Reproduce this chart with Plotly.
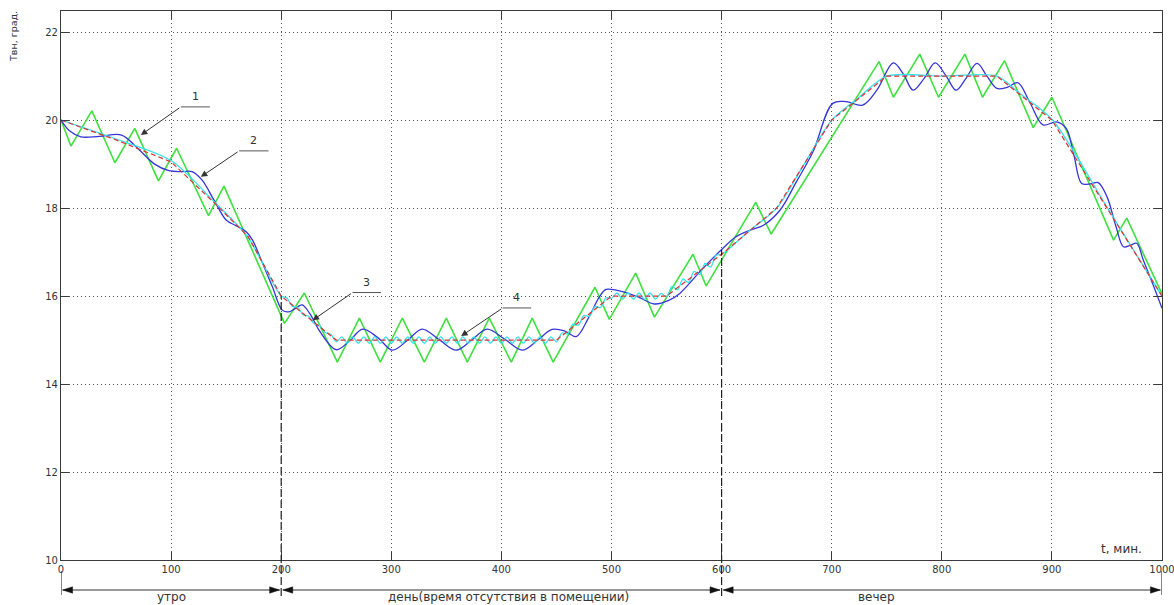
import plotly.graph_objects as go

# ---------------- data ----------------
red_t = [0, 50, 100, 140, 170, 200, 225, 250, 450, 475, 500, 550, 600, 650, 700, 750, 850, 870, 900, 950, 1000]
red_T = [20.0, 19.55, 19.05, 18.1, 17.35, 16.0, 15.5, 15.0, 15.0, 15.5, 16.0, 16.0, 16.95, 18.0, 20.0, 21.0, 21.0, 20.6, 20.0, 18.0, 16.0]

cyan_t = [0, 50, 100, 140, 170, 200,
          205, 210, 215, 220, 225, 230, 235, 240, 245, 250,
          255, 260, 265, 270, 275, 280, 285, 290, 295, 300,
          305, 310, 315, 320, 325, 330, 335, 340, 345, 350,
          355, 360, 365, 370, 375, 380, 385, 390, 395, 400,
          405, 410, 415, 420, 425, 430, 435, 440, 445, 450,
          455, 460, 465, 470, 475, 480, 485, 490, 495, 500,
          505, 510, 515, 520, 525, 530, 535, 540, 545, 550,
          555, 560, 565, 570, 575, 580, 585, 590, 595, 600,
          625, 650, 675, 700, 725, 750, 800, 850, 870, 900, 950, 1000]
cyan_T = [20.0, 19.57, 19.08, 18.12, 17.33, 16.0,
          15.96, 15.77, 15.74, 15.57, 15.54, 15.37, 15.33, 15.17, 15.13, 14.96,
          15.07, 14.93, 15.07, 14.93, 15.07, 14.93, 15.07, 14.93, 15.07, 14.93,
          15.07, 14.93, 15.07, 14.93, 15.07, 14.93, 15.07, 14.93, 15.07, 14.93,
          15.07, 14.93, 15.07, 14.93, 15.07, 14.93, 15.07, 14.93, 15.07, 14.93,
          15.07, 14.93, 15.07, 14.93, 15.07, 14.93, 15.07, 14.93, 15.07, 14.96,
          15.16, 15.14, 15.36, 15.34, 15.56, 15.54, 15.76, 15.74, 15.96, 15.95,
          16.07, 15.93, 16.07, 15.93, 16.07, 15.93, 16.07, 15.93, 16.06, 15.98,
          16.22, 16.14, 16.39, 16.31, 16.56, 16.49, 16.74, 16.66, 16.93, 16.95,
          17.48, 18.0, 19.0, 20.0, 20.52, 21.0, 21.0, 21.0, 20.62, 20.02, 18.02, 16.0]

blue_t = [0, 8, 18, 35, 55, 70, 85, 98, 110, 119, 128, 139, 150, 159, 168, 174, 183, 192, 201, 207,
          213, 219, 226, 235, 250, 262, 274, 288, 301, 315, 328, 343, 359, 373, 387, 403, 419, 433, 446, 458,
          468, 479, 489, 495, 510, 525, 539, 552, 562, 583, 601, 613, 626, 638, 653, 668, 683, 701, 713, 728,
          741, 756, 765, 774, 784, 794, 804, 813, 822, 832, 841, 850, 860, 869, 880, 892, 904, 913, 920, 927,
          935, 942, 950, 958, 965, 971, 977, 983, 992, 1000]
blue_T = [20.0, 19.75, 19.62, 19.63, 19.66, 19.35, 19.0, 18.85, 18.83, 18.83, 18.64, 18.18, 17.73, 17.6, 17.47, 17.27, 16.75, 16.21, 15.68, 15.64,
          15.72, 15.8, 15.6, 15.2, 14.78, 14.98, 15.25, 15.05, 14.77, 15.0, 15.25, 15.02, 14.77, 15.0, 15.25, 15.02, 14.77, 15.0, 15.24, 15.2,
          15.08, 15.5, 15.98, 16.15, 16.1, 15.97, 15.82, 15.9, 16.06, 16.63, 17.08, 17.35, 17.5, 17.61, 17.95, 18.6, 19.28, 20.38, 20.42, 20.34,
          20.68, 21.3, 21.05, 20.68, 20.95, 21.3, 21.0, 20.68, 20.95, 21.29, 21.0, 20.72, 20.75, 20.85, 20.4, 19.89, 19.96, 19.81, 19.2, 18.56,
          18.55, 18.58, 18.26, 17.6, 17.12, 17.15, 17.2, 16.82, 16.25, 15.72]

green_t = [0, 9, 28, 49, 67, 88.5, 105, 134, 148, 203, 221, 251, 271, 290, 310, 330, 350, 369, 389, 409, 428,
           447, 485, 498, 522, 539, 574, 586, 631, 645, 743, 756, 780, 797, 821, 837, 857, 883, 900, 956, 968, 1000]
green_T = [20.0, 19.41, 20.21, 19.03, 19.81, 18.62, 19.36, 17.83, 18.5, 15.38, 16.07, 14.5, 15.5, 14.5, 15.5, 14.5, 15.5, 14.5, 15.5, 14.5, 15.5,
           14.5, 16.2, 15.47, 16.52, 15.52, 16.95, 16.23, 18.13, 17.41, 21.33, 20.52, 21.5, 20.52, 21.5, 20.52, 21.35, 19.83, 20.52, 17.27, 17.77, 16.05]

x_ticks = [0, 100, 200, 300, 400, 500, 600, 700, 800, 900, 1000]
y_ticks = [10, 12, 14, 16, 18, 20, 22]

zone_bounds = [0, 200, 600, 1000]
zone_top_T = [None, 16.0, 17.05, None]
zone_labels = ["утро", "день(время отсутствия в помещении)", "вечер"]
zone_label_t = [100, 406, 741]

callout_text = ["1", "2", "3", "4"]
callout_head_t = [72.5, 127, 228.5, 363.4]
callout_head_T = [19.66, 18.71, 15.45, 15.09]
callout_tail_t = [108.8, 161.8, 264.8, 401.2]
callout_tail_T = [20.30, 19.30, 16.08, 15.73]
callout_end_t = [135.2, 188.5, 290.6, 427.0]

Y_MAX = 22.48
FONT = "DejaVu Sans"
INK = "#333333"

fig = go.Figure()
fig.add_trace(go.Scatter(x=green_t, y=green_T, mode="lines",
                         line=dict(color="#3fe03f", width=1.6), showlegend=False))
fig.add_trace(go.Scatter(x=blue_t, y=blue_T, mode="lines",
                         line=dict(color="#3535d8", width=1.3, shape="spline", smoothing=1.0), showlegend=False))
fig.add_trace(go.Scatter(x=cyan_t, y=cyan_T, mode="lines",
                         line=dict(color="#35e3ee", width=1.3, shape="spline", smoothing=0.8), showlegend=False))
fig.add_trace(go.Scatter(x=red_t, y=red_T, mode="lines",
                         line=dict(color="#e03030", width=1.2, dash="5px,3px"), showlegend=False))

shapes = []
annotations = []

PLOT_H = 549.0
def px_to_paper_y(py):
    return (560.0 - py) / PLOT_H

# zone separators
for b, topT in zip(zone_bounds, zone_top_T):
    if topT is None:
        shapes.append(dict(type="line", xref="x", yref="paper", x0=b, x1=b,
                           y0=px_to_paper_y(571), y1=px_to_paper_y(595),
                           line=dict(color=INK, width=1.2)))
    else:
        shapes.append(dict(type="line", xref="x", yref="paper", x0=b, x1=b,
                           y0=px_to_paper_y(596), y1=(topT - 10) / (Y_MAX - 10),
                           line=dict(color="#222222", width=1.2, dash="8px,3px")))

# zone arrows
arrow_y = px_to_paper_y(590)
head_len = 9.0
head_half = 3.2 / PLOT_H
gap = 1.5
for i in range(len(zone_bounds) - 1):
    a = zone_bounds[i] + gap
    b = zone_bounds[i + 1] - gap
    shapes.append(dict(type="line", xref="x", yref="paper", x0=a, x1=b, y0=arrow_y, y1=arrow_y,
                       line=dict(color=INK, width=1)))
    shapes.append(dict(type="path", xref="x", yref="paper",
                       path=f"M {a} {arrow_y} L {a + head_len} {arrow_y + head_half} L {a + head_len} {arrow_y - head_half} Z",
                       fillcolor="#111111", line=dict(color="#111111", width=0.5)))
    shapes.append(dict(type="path", xref="x", yref="paper",
                       path=f"M {b} {arrow_y} L {b - head_len} {arrow_y + head_half} L {b - head_len} {arrow_y - head_half} Z",
                       fillcolor="#111111", line=dict(color="#111111", width=0.5)))
    annotations.append(dict(x=zone_label_t[i], y=px_to_paper_y(597), xref="x", yref="paper",
                            text=zone_labels[i], showarrow=False, xanchor="center", yanchor="middle",
                            font=dict(family=FONT, size=12, color=INK)))

# numbered callouts
for txt, ht, hT, tt, tT, et in zip(callout_text, callout_head_t, callout_head_T,
                                   callout_tail_t, callout_tail_T, callout_end_t):
    shapes.append(dict(type="line", xref="x", yref="y", x0=tt, x1=et, y0=tT, y1=tT,
                       line=dict(color="#555555", width=1)))
    annotations.append(dict(x=ht, y=hT, xref="x", yref="y", ax=tt, ay=tT, axref="x", ayref="y",
                            text="", showarrow=True, arrowhead=2, arrowsize=1.3, arrowwidth=1,
                            arrowcolor="#333333", standoff=0))
    annotations.append(dict(x=(tt + et) / 2, y=tT, xref="x", yref="y", text=txt, showarrow=False,
                            xanchor="center", yanchor="bottom", yshift=2,
                            font=dict(family=FONT, size=11, color=INK)))

# axis titles
annotations.append(dict(x=-0.0427, y=px_to_paper_y(36), xref="paper", yref="paper",
                        text="Твн, град.", textangle=-90, showarrow=False,
                        xanchor="center", yanchor="middle",
                        font=dict(family=FONT, size=9.5, color=INK)))
annotations.append(dict(x=963, y=px_to_paper_y(549), xref="x", yref="paper",
                        text="t, мин.", showarrow=False, xanchor="center", yanchor="middle",
                        font=dict(family=FONT, size=12, color=INK)))

axis_common = dict(showline=True, linecolor="#3a3a3a", linewidth=1.2, mirror="allticks",
                   ticks="inside", ticklen=8, tickwidth=1, tickcolor="#3a3a3a",
                   showgrid=True, gridcolor="#555555", griddash="1px,3px", gridwidth=1,
                   zeroline=False, ticklabeloverflow="allow", automargin=False,
                   tickfont=dict(family=FONT, size=10, color=INK))

fig.update_layout(
    width=1174, height=605,
    margin=dict(l=61, r=12, t=11, b=45, autoexpand=False),
    paper_bgcolor="white", plot_bgcolor="white",
    xaxis=dict(range=[0, 1000], tickvals=x_ticks, **axis_common),
    yaxis=dict(range=[10, Y_MAX], tickvals=y_ticks, **axis_common),
    shapes=shapes, annotations=annotations,
    showlegend=False,
)

fig.write_html("out.html", config={"displayModeBar": False},
               post_script="document.body.style.margin='0';document.body.style.padding='0';document.body.style.overflow='hidden';")
